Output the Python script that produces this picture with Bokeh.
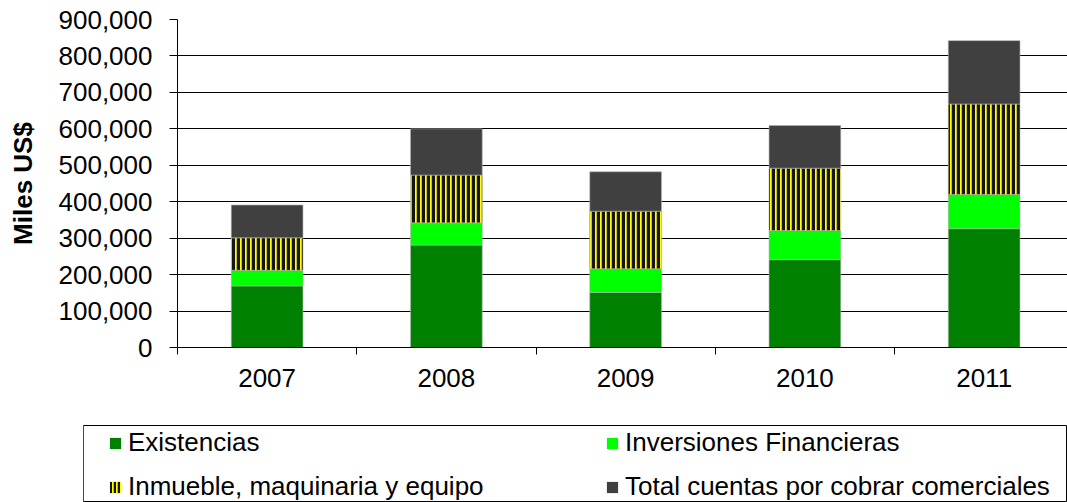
from bokeh.plotting import figure
from bokeh.models import Range1d, FixedTicker, NumeralTickFormatter, Legend, LegendItem
from bokeh.embed import file_html
from bokeh.resources import INLINE

years = ["2007", "2008", "2009", "2010", "2011"]
existencias = [169000, 281000, 151000, 241000, 326000]
inversiones = [43000, 61000, 65000, 80000, 94000]
inmueble = [89000, 131000, 158000, 171000, 248000]
cuentas = [90000, 127000, 108000, 117000, 174000]

y_ticks = [0, 100000, 200000, 300000, 400000, 500000, 600000, 700000, 800000, 900000]
labels = ["Existencias", "Inversiones Financieras",
          "Inmueble, maquinaria y equipo", "Total cuentas por cobrar comerciales"]
colors = ["#008000", "#00FF00", "#FFFF00", "#404040"]

FONT = "Liberation Sans"
FS = "26px"

xs = list(range(len(years)))
b1 = [0] * len(years)
t1 = [b + v for b, v in zip(b1, existencias)]
t2 = [b + v for b, v in zip(t1, inversiones)]
t3 = [b + v for b, v in zip(t2, inmueble)]
t4 = [b + v for b, v in zip(t3, cuentas)]

p = figure(width=1067, height=417, output_backend="svg", toolbar_location=None,
           x_range=Range1d(-0.5, 4.465), y_range=Range1d(0, 900000),
           min_border_left=177, min_border_right=0, min_border_top=19, min_border_bottom=70)
p.outline_line_color = None
p.background_fill_color = "white"
p.border_fill_color = "white"

bw = 0.4
edge = dict(line_color="#b0b0b0", line_width=0.6)
hatch = dict(hatch_pattern="|", hatch_color="#151515", hatch_scale=5, hatch_weight=3.5)
p.vbar(x=xs, bottom=b1, top=t1, width=bw, fill_color=colors[0], **edge)
p.vbar(x=xs, bottom=t1, top=t2, width=bw, fill_color=colors[1], **edge)
p.vbar(x=xs, bottom=t2, top=t3, width=bw, fill_color=colors[2], **edge, **hatch)
p.vbar(x=xs, bottom=t3, top=t4, width=bw, fill_color=colors[3], **edge)

p.xgrid.visible = False
p.ygrid.ticker = FixedTicker(ticks=y_ticks)
p.ygrid.grid_line_color = "black"
p.ygrid.grid_line_width = 1

xa = p.xaxis[0]
xa.ticker = FixedTicker(ticks=xs, minor_ticks=[i - 0.5 for i in range(len(years) + 1)])
xa.major_label_overrides = {i: y for i, y in enumerate(years)}
xa.major_tick_out = 0
xa.major_tick_in = 0
xa.minor_tick_out = 7
xa.minor_tick_in = 0
xa.minor_tick_line_color = "black"
xa.axis_line_color = "black"
xa.major_label_standoff = 14
xa.major_label_text_font = FONT
xa.major_label_text_font_size = FS
xa.major_label_text_color = "black"

ya = p.yaxis[0]
ya.ticker = FixedTicker(ticks=y_ticks)
ya.formatter = NumeralTickFormatter(format="0,0")
ya.major_tick_out = 8
ya.major_tick_in = 0
ya.minor_tick_line_color = None
ya.axis_line_color = "black"
ya.major_tick_line_color = "black"
ya.major_label_standoff = 17
ya.major_label_text_font = FONT
ya.major_label_text_font_size = FS
ya.major_label_text_color = "black"
ya.axis_label = "Miles US$"
ya.axis_label_text_font = FONT
ya.axis_label_text_font_size = FS
ya.axis_label_text_font_style = "bold"
ya.axis_label_text_color = "black"
ya.axis_label_standoff = 18

# legend panel (its frame outline is the legend box)
p2 = figure(width=1067, height=85, output_backend="svg", toolbar_location=None,
            x_range=Range1d(0, 1), y_range=Range1d(0, 1),
            x_axis_location=None, y_axis_location=None,
            min_border_left=83, min_border_right=0, min_border_top=8, min_border_bottom=1)
p2.xgrid.visible = False
p2.ygrid.visible = False
p2.outline_line_color = "black"
p2.outline_line_width = 1
p2.border_fill_color = "white"

# legend swatches: renderers placed outside the visible range, only their legend glyphs show
off = dict(x=[-10], bottom=[0], top=[1], width=bw, line_color=None)
l1 = p2.vbar(fill_color=colors[0], **off)
l2 = p2.vbar(fill_color=colors[1], **off)
l3 = p2.vbar(fill_color=colors[2], hatch_pattern="|", hatch_color="#151515",
             hatch_scale=4, hatch_weight=2.5, **off)
l4 = p2.vbar(fill_color=colors[3], **off)

legend = Legend(items=[LegendItem(label=labels[0], renderers=[l1]),
                       LegendItem(label=labels[1], renderers=[l2]),
                       LegendItem(label=labels[2], renderers=[l3]),
                       LegendItem(label=labels[3], renderers=[l4])],
                location=(25, -1), ncols=2, orientation="horizontal",
                padding=0, margin=0, spacing=13,
                glyph_width=14, glyph_height=14, label_standoff=6,
                label_width=464, label_height=29,
                border_line_color=None, background_fill_alpha=0,
                label_text_font=FONT, label_text_font_size=FS, label_text_color="black")
p2.add_layout(legend)

open("out.html", "w").write(file_html([p, p2], INLINE))
